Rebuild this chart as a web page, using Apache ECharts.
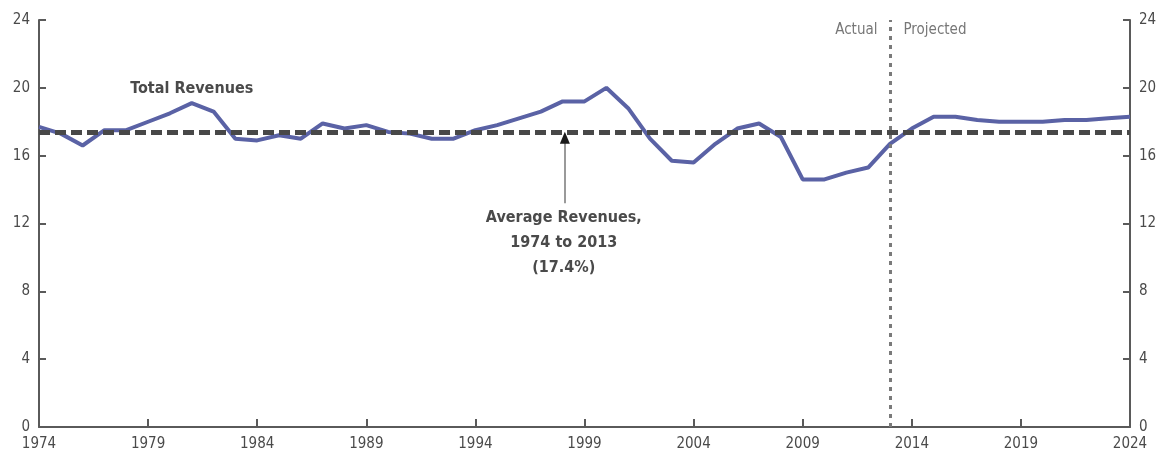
<!DOCTYPE html>
<html>
<head>
<meta charset="utf-8">
<script src="https://cdn.jsdelivr.net/npm/echarts@6/dist/echarts.min.js"></script>
<style>
  html, body { margin: 0; padding: 0; background: #fff; }
  #main { width: 1172px; height: 457px; }
</style>
</head>
<body>
<div id="main"></div>
<script>
// 数据
var years = [1974,1975,1976,1977,1978,1979,1980,1981,1982,1983,1984,1985,1986,1987,1988,1989,1990,1991,1992,1993,
  1994,1995,1996,1997,1998,1999,2000,2001,2002,2003,2004,2005,2006,2007,2008,2009,2010,2011,2012,2013,
  2014,2015,2016,2017,2018,2019,2020,2021,2022,2023,2024];
var revenues = [17.7,17.3,16.6,17.5,17.5,18.0,18.5,19.1,18.6,17.0,16.9,17.2,17.0,17.9,17.6,17.8,17.4,17.3,17.0,17.0,
  17.5,17.8,18.2,18.6,19.2,19.2,20.0,18.8,17.0,15.7,15.6,16.7,17.6,17.9,17.1,14.6,14.6,15.0,15.3,16.7,
  17.6,18.3,18.3,18.1,18.0,18.0,18.0,18.1,18.1,18.2,18.3];
var average = 17.4;
var splitYear = 2013;
var xTicks = [1974,1979,1984,1989,1994,1999,2004,2009,2014,2019,2024];

var font = '"Liberation Sans Narrow", "DejaVu Sans Condensed", sans-serif';
var textColor = '#4a4a4a';
var axisColor = '#5a5a5a';

var chartDom = document.getElementById('main');
var myChart = echarts.init(chartDom);

var lineData = years.map(function (y, i) { return [y, revenues[i]]; });

// 文字注释：用透明的小点承载标签
function textPoint(coord, text, label) {
  return {
    coord: coord,
    symbol: 'circle',
    symbolSize: 1,
    itemStyle: { color: 'rgba(0,0,0,0)' },
    label: Object.assign({
      show: true,
      formatter: text,
      position: 'inside',
      color: textColor,
      fontFamily: font,
      fontSize: 16,
      fontWeight: 'bold'
    }, label || {})
  };
}

var yAxisBase = {
  type: 'value',
  min: 0,
  max: 24,
  interval: 4,
  splitLine: { show: false },
  axisLine: { show: true, lineStyle: { color: axisColor, width: 2 } },
  axisTick: { show: true, inside: true, length: 7, lineStyle: { color: axisColor, width: 2 } },
  axisLabel: { color: textColor, fontFamily: font, fontSize: 15, margin: 9 }
};

var option = {
  animation: false,
  grid: { left: 39, right: 42, top: 20, bottom: 30 },
  xAxis: {
    type: 'value',
    min: 1974,
    max: 2024,
    interval: 5,
    splitLine: { show: false },
    axisLine: { lineStyle: { color: axisColor, width: 2 } },
    axisTick: { show: true, inside: true, length: 8, lineStyle: { color: axisColor, width: 2 } },
    axisLabel: {
      color: textColor, fontFamily: font, fontSize: 15, margin: 10,
      showMinLabel: true, showMaxLabel: true,
      formatter: function (v) { return xTicks.indexOf(v) >= 0 ? String(v) : ''; }
    }
  },
  yAxis: [
    Object.assign({}, yAxisBase, { position: 'left' }),
    Object.assign({}, yAxisBase, { position: 'right' })
  ],
  series: [
    {
      name: 'Total Revenues',
      type: 'line',
      data: lineData,
      showSymbol: false,
      lineStyle: { color: '#5a62a5', width: 4 },
      z: 3,
      markLine: {
        silent: true,
        symbol: 'none',
        label: { show: false },
        data: [
          { yAxis: average, lineStyle: { color: '#484848', width: 5, type: [11, 5] } },
          { xAxis: splitYear, lineStyle: { color: '#7a7a7a', width: 3, type: [4, 5] } },
          [
            { coord: [1998.1, 13.2], lineStyle: { color: '#9a9a9a', width: 2, type: 'solid' } },
            { coord: [1998.1, 17.0] }
          ]
        ]
      },
      markPoint: {
        silent: true,
        data: [
          { coord: [1998.1, 17.05], symbol: 'triangle', symbolSize: [10, 12], itemStyle: { color: '#1a1a1a' }, label: { show: false } },
          textPoint([1981, 19.95], 'Total Revenues'),
          textPoint([1998.05, 10.85], 'Average Revenues,\n1974 to 2013\n(17.4%)', { align: 'center', lineHeight: 25 }),
          textPoint([splitYear, 23.4], 'Actual', { position: 'left', distance: 12, color: '#777', fontSize: 15, fontWeight: 'normal' }),
          textPoint([splitYear, 23.4], 'Projected', { position: 'right', distance: 13, color: '#777', fontSize: 15, fontWeight: 'normal' })
        ]
      }
    }
  ]
};

myChart.setOption(option);
</script>
</body>
</html>
